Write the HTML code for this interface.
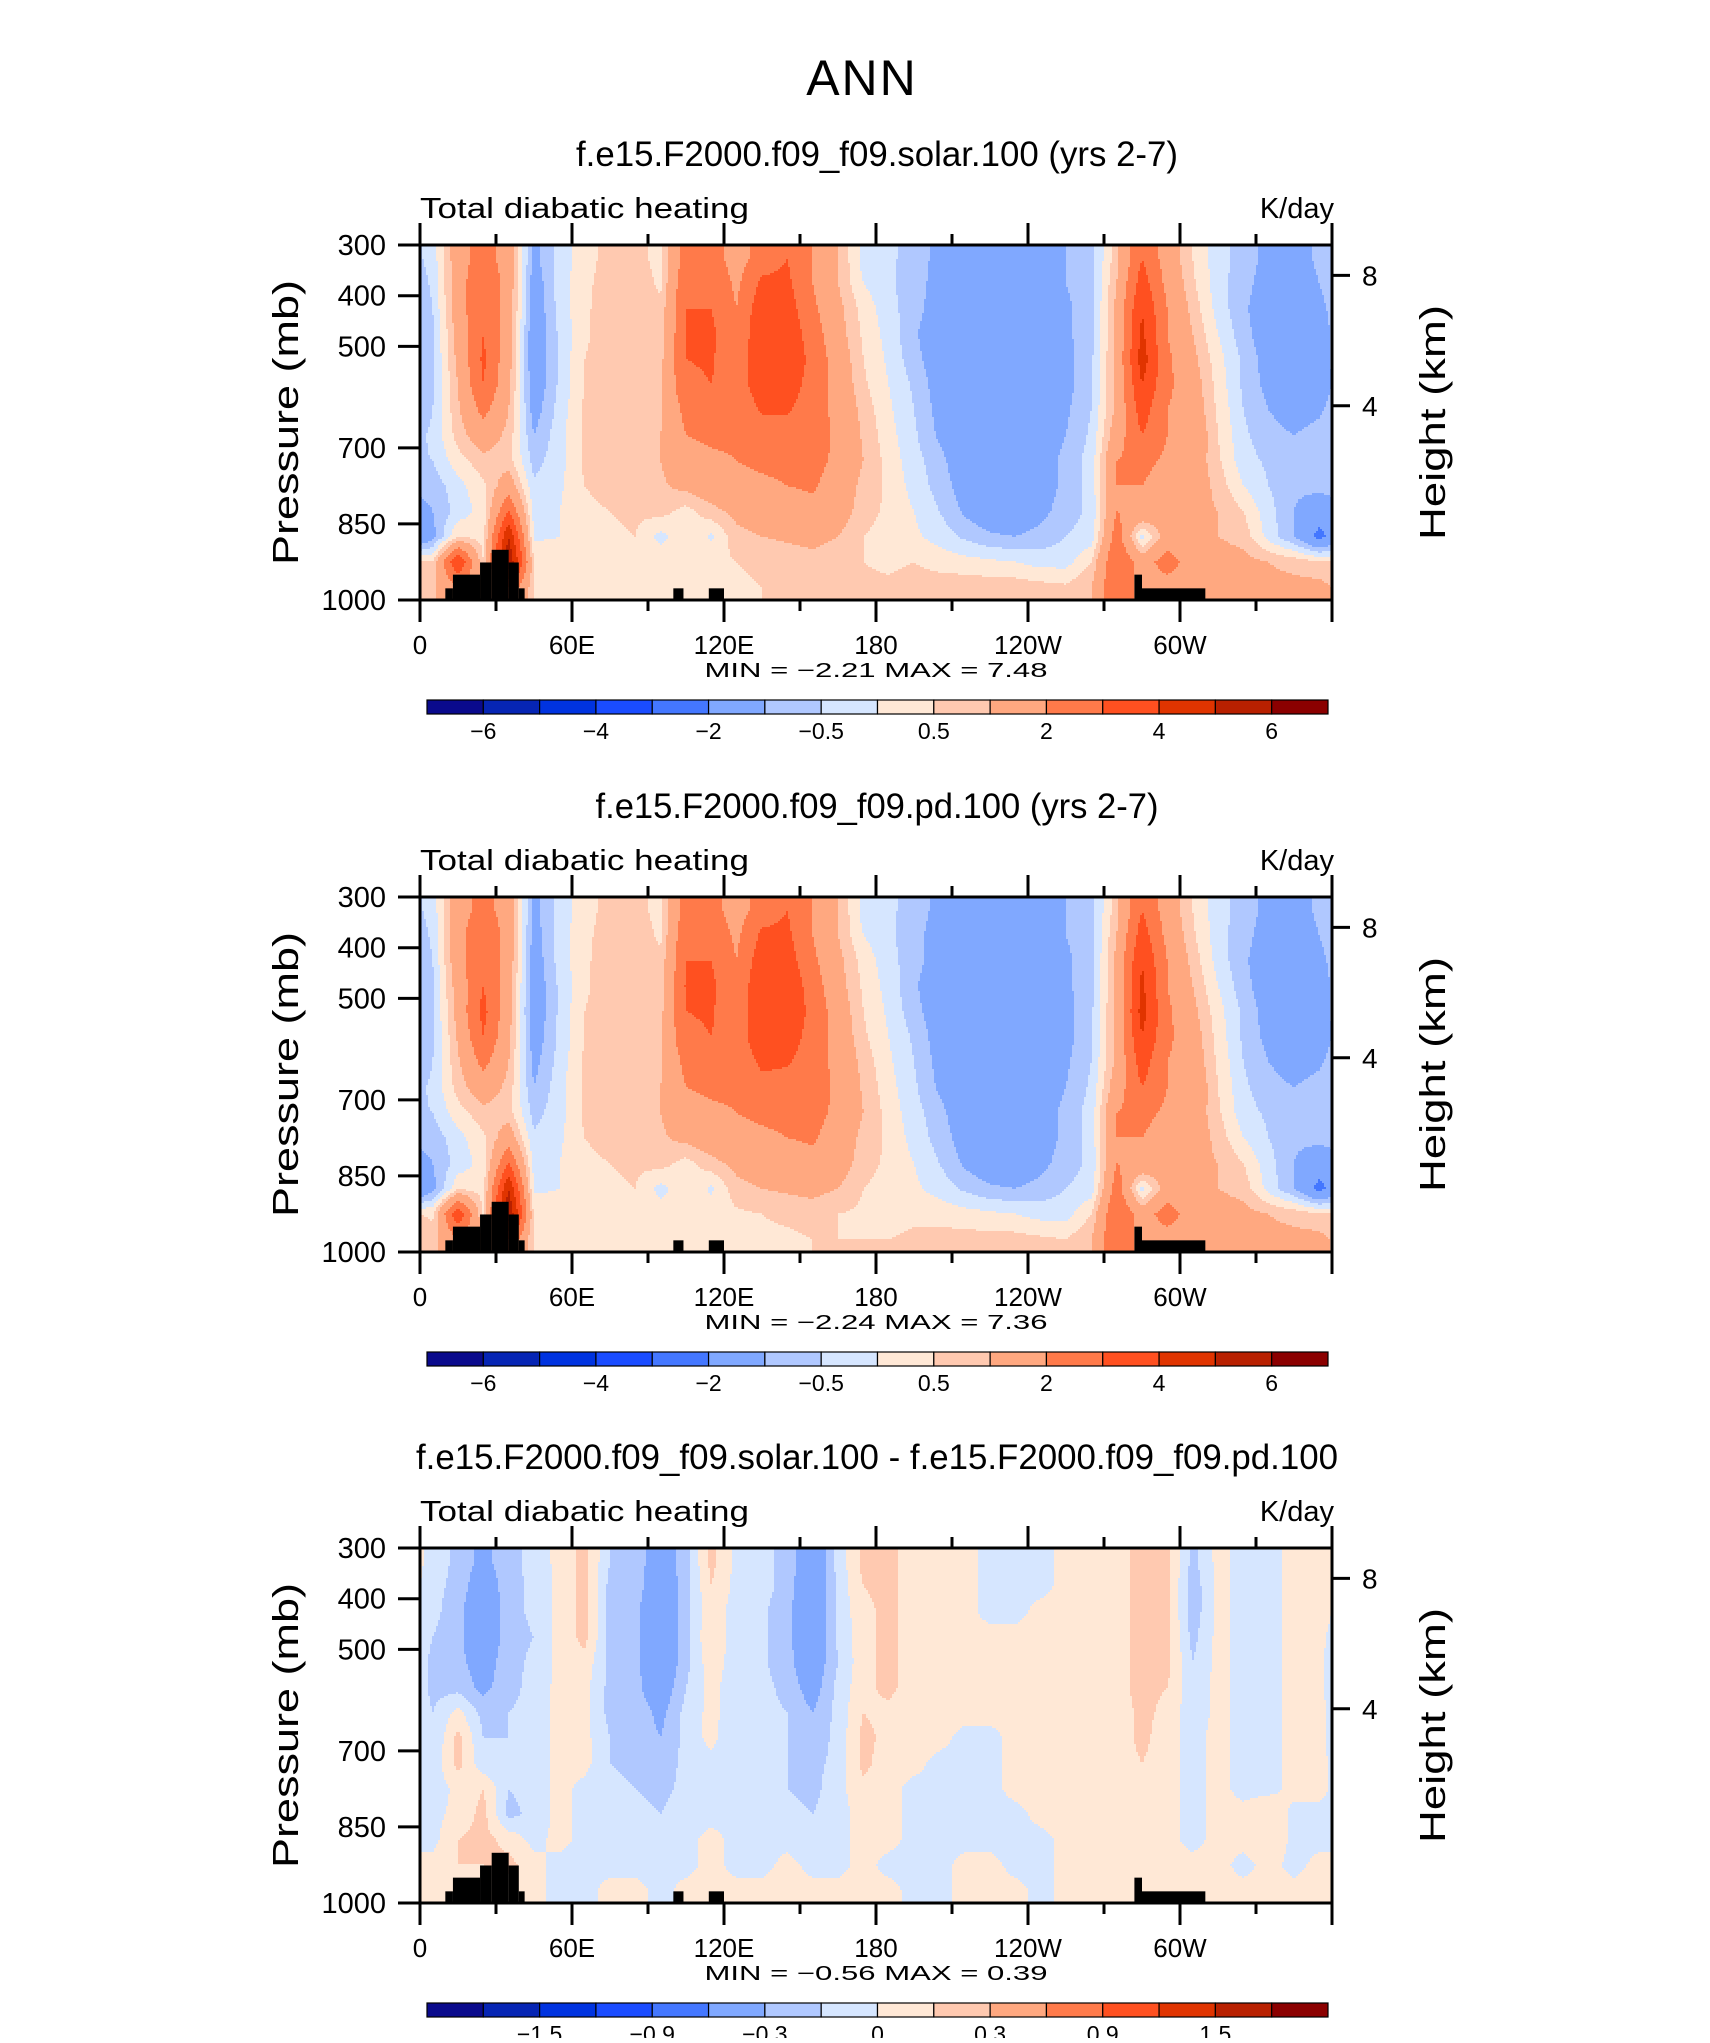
<!DOCTYPE html>
<html><head><meta charset="utf-8"><style>
html,body{margin:0;padding:0;background:#fff}
svg text{font-family:"Liberation Sans",sans-serif;fill:#000}
</style></head><body>
<svg id="fig" width="1710" height="2038" viewBox="0 0 1710 2038" xmlns="http://www.w3.org/2000/svg">
<text x="862" y="95" font-size="50" text-anchor="middle" letter-spacing="2">ANN</text>
</svg>
<script>
// ---------- data ----------
const lons=[5,15,25,35,45,55,65,75,85,95,105,115,125,135,145,155,165,175,185,195,205,215,225,235,245,255,265,275,285,295,305,315,325,335,345,355];
const levels=[325,375,425,475,525,575,625,675,725,775,825,875,925,975];
const solarField=[
[-0.3,1.5,2.5,1.5,-1.2,-0.3,0.3,0.7,0.7,0.3,2.5,2.5,1.5,2.5,3,2,1,-0.2,-0.4,-0.7,-1.2,-1.5,-1.5,-1.5,-1.5,-1,-0.7,0.8,3,1.5,0.5,-0.3,-0.7,-1.2,-1.5,-0.8],
[-0.4,1.5,3,1.5,-1.4,-0.3,0.4,0.7,0.8,0.4,2.8,2.8,1.8,3.2,3.2,2,1,0,-0.4,-0.8,-1.2,-1.7,-1.7,-1.7,-1.5,-1,-0.7,1,3.5,1.7,0.6,-0.3,-0.8,-1.3,-1.6,-1],
[-0.5,1.5,3,1.5,-1.5,-0.3,0.4,0.8,0.8,0.6,3,3,2,3.7,3.5,2.2,1.2,0.3,-0.3,-0.8,-1.3,-1.8,-1.8,-1.8,-1.6,-1.1,-0.7,1.2,4,2,0.8,-0.2,-0.9,-1.4,-1.7,-1.2],
[-0.6,1.3,3,1.4,-1.6,-0.4,0.4,0.8,0.8,0.7,3,3.2,2.2,3.8,3.7,2.5,1.3,0.4,-0.2,-0.9,-1.5,-1.8,-1.8,-1.8,-1.7,-1.1,-0.7,1.2,4.2,2,1,0,-0.8,-1.4,-1.8,-1.3],
[-0.6,1.2,3.2,1.3,-1.6,-0.4,0.5,0.8,0.8,0.8,3,3.1,2.3,3.9,3.8,2.7,1.5,0.5,-0.1,-0.8,-1.4,-1.8,-1.8,-1.8,-1.7,-1.2,-0.6,1.2,4.5,2.2,1.2,0.2,-0.6,-1.3,-1.8,-1.3],
[-0.6,1,3,1.2,-1.5,-0.4,0.5,0.8,0.9,0.9,2.8,3,2.5,3.6,3.5,2.6,1.6,0.6,0,-0.6,-1.3,-1.8,-1.8,-1.8,-1.7,-1.2,-0.6,1.2,4,2.2,1.4,0.3,-0.6,-1.2,-1.6,-1.4],
[-0.5,0.9,2.3,1,-1.3,-0.3,0.6,0.9,0.9,0.9,2.3,2.5,2.3,3.1,3.1,2.5,1.7,0.8,0.1,-0.5,-1.2,-1.8,-1.8,-1.8,-1.6,-1.1,-0.5,1.2,3.5,2,1.5,0.4,-0.5,-1,-1.3,-1.1],
[-0.4,0.7,1.5,0.8,-1,-0.2,0.6,0.9,0.9,1,2,2.2,2.2,2.6,2.6,2.5,1.8,0.9,0.2,-0.4,-1.1,-1.6,-1.8,-1.8,-1.5,-1,-0.4,1.5,3,2,1.7,0.5,-0.4,-0.8,-1,-0.8],
[-0.5,0.3,0.8,0.7,-0.7,-0.2,0.6,0.9,0.9,1,1.6,1.8,2,2.2,2.3,2.3,1.8,1,0.3,-0.3,-0.8,-1.5,-1.8,-1.8,-1.4,-0.8,-0.3,2,2.3,1.8,1.5,0.6,-0.3,-0.6,-0.8,-0.6],
[-0.8,-0.2,0.4,1.5,-0.4,-0.1,0.5,0.8,0.8,0.9,1.2,1.5,1.7,1.8,2,2.1,1.6,0.8,0.4,-0.2,-0.7,-1.3,-1.8,-1.8,-1.4,-0.8,-0.3,2,2,1.5,1.5,0.8,0,-0.5,-0.9,-0.8],
[-1,-0.3,0.2,3,-0.2,0,0.3,0.5,0.6,0.7,0.3,0.8,1.2,1.4,1.6,1.8,1.4,0.7,0.4,0,-0.5,-1.1,-1.5,-1.5,-1.2,-0.7,-0.4,2,1.8,1.5,1.2,1,0.5,-0.3,-1,-1.5],
[-1.2,0.5,0.3,5,-0.1,0,0.3,0.4,0.5,-0.2,0.4,-0.1,0.8,1,1.1,1.2,1,0.5,0.3,0.1,-0.2,-0.6,-0.9,-1,-0.8,-0.5,-0.3,2.5,-0.2,1.4,1.2,1,0.8,-0.2,-1,-2.3],
[0.5,4,0.5,6,0.5,0.2,0.3,0.4,0.5,0.4,0.3,0.4,0.5,0.6,0.7,0.8,0.6,0.5,0.4,0.5,0.3,0.2,0.1,0,-0.2,-0.2,0.5,3,1.5,2.5,1.5,1.3,1.2,1,0.8,0.6],
[0.8,2,1,3,0.5,0.4,0.4,0.4,0.4,0.4,0.4,0.4,0.4,0.5,0.5,0.6,0.6,0.6,0.6,0.7,0.8,0.8,0.8,0.8,0.7,0.6,1,3,1.5,1.5,1.5,1.3,1.2,1.2,1.2,1.2]];
const pdField=[
[-0.3,1.5,2.4,1.5,-1.2,-0.3,0.3,0.7,0.7,0.3,2.5,2.4,1.5,2.5,3,2,1,-0.2,-0.4,-0.7,-1.2,-1.5,-1.5,-1.5,-1.5,-1,-0.7,0.8,3,1.5,0.5,-0.3,-0.7,-1.2,-1.5,-0.8],
[-0.4,1.6,3,1.5,-1.3,-0.3,0.4,0.7,0.8,0.4,2.8,2.7,1.8,3.2,3.2,2,1,0,-0.4,-0.8,-1.3,-1.7,-1.7,-1.7,-1.5,-1,-0.7,1,3.5,1.7,0.6,-0.3,-0.8,-1.3,-1.6,-1],
[-0.5,1.6,3,1.5,-1.4,-0.3,0.4,0.8,0.8,0.6,3,3,2,3.6,3.5,2.2,1.2,0.3,-0.3,-0.8,-1.3,-1.8,-1.8,-1.8,-1.6,-1.1,-0.7,1.2,4,2,0.8,-0.2,-0.9,-1.4,-1.7,-1.2],
[-0.6,1.4,3,1.4,-1.5,-0.4,0.4,0.8,0.8,0.7,3.1,3.2,2.2,3.9,3.8,2.5,1.3,0.4,-0.2,-0.9,-1.5,-1.8,-1.8,-1.8,-1.7,-1.1,-0.7,1.2,4.2,2,1,0,-0.8,-1.4,-1.8,-1.3],
[-0.6,1.3,3.3,1.3,-1.5,-0.4,0.5,0.8,0.8,0.8,3,3.1,2.3,4,3.8,2.7,1.5,0.5,-0.1,-0.8,-1.4,-1.8,-1.8,-1.8,-1.7,-1.2,-0.6,1.2,4.4,2.2,1.2,0.2,-0.6,-1.3,-1.8,-1.3],
[-0.6,1.1,3,1.2,-1.4,-0.4,0.5,0.8,0.9,0.9,2.8,3,2.5,3.7,3.5,2.6,1.6,0.6,0,-0.6,-1.3,-1.8,-1.8,-1.8,-1.7,-1.2,-0.6,1.2,4,2.2,1.4,0.3,-0.6,-1.2,-1.6,-1.4],
[-0.5,0.9,2.3,1,-1.2,-0.3,0.6,0.9,0.9,0.9,2.3,2.5,2.3,3.2,3.1,2.5,1.7,0.8,0.1,-0.5,-1.2,-1.8,-1.8,-1.8,-1.6,-1.1,-0.5,1.2,3.5,2,1.5,0.4,-0.5,-1,-1.3,-1.1],
[-0.4,0.7,1.5,0.8,-1,-0.2,0.6,0.9,0.9,1,2,2.2,2.2,2.7,2.6,2.5,1.8,0.9,0.2,-0.4,-1.1,-1.6,-1.8,-1.8,-1.5,-1,-0.4,1.5,3,2,1.7,0.5,-0.4,-0.8,-1,-0.8],
[-0.5,0.3,0.8,0.7,-0.7,-0.2,0.6,0.9,0.9,1,1.6,1.8,2,2.2,2.3,2.3,1.8,1,0.3,-0.3,-0.8,-1.5,-1.8,-1.8,-1.4,-0.8,-0.3,2,2.3,1.8,1.5,0.6,-0.3,-0.6,-0.8,-0.6],
[-0.8,-0.2,0.4,1.5,-0.4,-0.1,0.5,0.8,0.8,0.9,1.2,1.5,1.7,1.8,2,2.1,1.6,0.8,0.4,-0.2,-0.7,-1.3,-1.8,-1.8,-1.4,-0.8,-0.3,2,2,1.5,1.5,0.8,0,-0.5,-0.9,-0.8],
[-1,-0.3,0.2,3,-0.2,0,0.3,0.5,0.6,0.7,0.3,0.8,1.2,1.4,1.6,1.8,1.4,0.7,0.4,0,-0.5,-1.1,-1.5,-1.5,-1.2,-0.7,-0.4,2,1.8,1.5,1.2,1,0.5,-0.3,-1,-1.5],
[-1.2,0.4,0.3,5,-0.1,0,0.3,0.4,0.5,-0.2,0.4,-0.1,0.8,1,1.1,1.2,1,0.5,0.3,0.1,-0.2,-0.6,-0.9,-1,-0.8,-0.5,-0.3,2.5,-0.2,1.4,1.2,1,0.8,-0.2,-1,-2.3],
[0.4,3.8,0.4,6,0.4,0.2,0.3,0.3,0.4,0.3,0.3,0.3,0.4,0.5,0.6,0.7,0.5,0.4,0.3,0.4,0.3,0.2,0.1,0,-0.2,-0.2,0.5,3,1.5,2.5,1.5,1.3,1.2,1,0.8,0.6],
[0.7,2,1,3,0.4,0.3,0.3,0.3,0.3,0.3,0.3,0.3,0.3,0.4,0.4,0.5,0.5,0.5,0.5,0.6,0.7,0.7,0.7,0.7,0.6,0.5,1,3,1.5,1.5,1.5,1.3,1.2,1.2,1.2,1.2]];
const diffField=[
[-0.05,-0.2,-0.35,-0.2,-0.1,0.05,0.2,-0.15,-0.2,-0.45,-0.2,0.2,-0.05,-0.1,-0.2,-0.5,-0.1,0.2,0.2,0.05,0.05,0.05,-0.05,-0.05,-0.05,0.05,0.1,0.1,0.2,0.2,-0.2,0.05,-0.05,-0.05,0.05,0.1],
[-0.1,-0.2,-0.45,-0.2,-0.12,0.05,0.2,-0.2,-0.2,-0.5,-0.2,0.15,-0.05,-0.1,-0.2,-0.55,-0.1,0.15,0.2,0.05,0.05,0.05,-0.05,-0.05,-0.05,0.05,0.1,0.1,0.2,0.2,-0.25,0.05,-0.05,-0.05,0.05,0.1],
[-0.1,-0.25,-0.5,-0.2,-0.12,0.05,0.2,-0.2,-0.25,-0.55,-0.2,0.1,-0.08,-0.12,-0.25,-0.55,-0.1,0.1,0.2,0.05,0.05,0.05,-0.05,-0.05,0.05,0.05,0.1,0.1,0.2,0.2,-0.25,0.05,-0.05,-0.05,0.05,0.1],
[-0.15,-0.25,-0.5,-0.2,-0.15,0.05,0.2,-0.2,-0.25,-0.55,-0.2,0.15,-0.1,-0.12,-0.25,-0.5,-0.12,0.1,0.2,0.05,0.05,0.05,0.05,0.05,0.05,0.05,0.05,0.1,0.2,0.2,-0.2,0.05,-0.05,-0.05,0.05,0.05],
[-0.2,-0.25,-0.4,-0.2,-0.12,0.05,0.1,-0.2,-0.25,-0.5,-0.2,0.1,-0.1,-0.12,-0.25,-0.45,-0.15,0.1,0.2,0.05,0.05,0.05,0.05,0.05,0.05,0.05,0.05,0.1,0.2,0.2,-0.15,0.05,-0.05,-0.05,0.05,0.05],
[-0.2,-0.2,-0.35,-0.2,-0.1,0.05,0.05,-0.2,-0.25,-0.45,-0.15,0.05,-0.1,-0.1,-0.2,-0.4,-0.1,0.1,0.2,0.05,0.05,0.05,0.05,0.05,0.05,0.05,0.05,0.1,0.2,0.15,-0.1,0.05,-0.05,-0.05,0.05,0.05],
[-0.15,0.05,-0.2,-0.15,-0.1,0.05,0.05,-0.2,-0.2,-0.35,-0.1,0.05,-0.1,-0.1,-0.15,-0.3,-0.1,0.15,0.1,0.05,0.05,0.05,0.05,0.05,0.05,0.05,0.05,0.05,0.2,0.1,-0.1,0.05,-0.05,-0.05,0.05,0.05],
[-0.15,0.2,-0.15,-0.15,-0.1,0.05,0.05,-0.15,-0.2,-0.3,-0.1,0.05,-0.15,-0.1,-0.15,-0.25,-0.1,0.2,0.1,0.05,0.05,-0.05,-0.05,0.05,0.05,0.05,0.05,0.05,0.2,0.05,-0.05,0.05,-0.05,-0.05,0.05,0.05],
[-0.1,0.2,-0.1,-0.1,-0.1,0.05,0.05,-0.15,-0.2,-0.25,-0.1,-0.05,-0.15,-0.1,-0.15,-0.2,-0.1,0.2,0.05,0.05,-0.05,-0.05,-0.05,0.05,0.05,0.05,0.05,0.05,0.15,0.05,-0.05,0.05,-0.05,-0.05,0.05,0.05],
[-0.1,0.05,0.15,-0.15,-0.1,0.05,-0.05,-0.1,-0.15,-0.2,-0.1,-0.05,-0.1,-0.1,-0.15,-0.2,-0.05,0.1,0.05,-0.05,-0.05,-0.05,-0.05,0.05,0.05,0.05,0.05,0.05,0.1,0.05,-0.05,0.05,-0.05,-0.05,0.05,0.05],
[-0.05,0.05,0.2,-0.2,-0.1,0.05,-0.05,-0.05,-0.1,-0.15,-0.05,-0.05,-0.05,-0.1,-0.1,-0.15,-0.05,0.05,0.05,-0.05,-0.05,-0.05,-0.05,-0.05,0.05,0.05,0.05,0.05,0.1,0.05,-0.05,0.05,0.05,0.15,-0.05,-0.05],
[-0.05,0.15,0.2,0.1,-0.05,0.05,-0.05,-0.05,-0.05,-0.1,-0.05,0.05,-0.05,-0.05,-0.05,-0.1,-0.05,0.05,0.05,-0.05,-0.05,-0.05,-0.05,-0.05,-0.05,0.05,0.05,0.05,0.05,0.05,-0.05,0.05,0.05,0.15,-0.05,-0.05],
[0.05,0.15,0.15,0.2,0.05,-0.05,-0.05,-0.05,-0.05,-0.05,-0.05,0.05,-0.05,-0.05,0.05,-0.05,-0.05,0.05,-0.05,-0.05,-0.05,0.05,0.05,-0.05,-0.05,0.05,0.05,0.05,0.05,0.05,0.05,0.05,-0.05,0.05,-0.05,0.05],
[0.05,0.05,0.05,0.05,0.05,-0.05,-0.05,0.05,0.05,-0.05,0.05,0.05,0.05,0.05,0.05,0.05,0.05,0.05,0.05,-0.05,-0.05,0.05,0.05,0.05,-0.05,0.05,0.05,0.05,0.05,0.05,0.05,0.05,0.05,0.05,0.05,0.05]];
const absBounds=[-6,-5,-4,-3,-2,-1,-0.5,0,0.5,1,2,3,4,5,6];
const absLabels=["-6","-4","-2","-0.5","0.5","2","4","6"];
const diffBounds=[-1.8,-1.5,-1.2,-0.9,-0.6,-0.3,-0.15,0,0.15,0.3,0.6,0.9,1.2,1.5,1.8];
const diffLabels=["-1.5","-0.9","-0.3","0","0.3","0.9","1.5"];
const topoLon0=[10,13,23.7,28.3,35,39,100,114,282,285];
const topoLon1=[13,23.7,28.3,35,39,41.3,104,120,285,310];
const topoTop=[977,950,926,901,926,977,977,977,950,977];
const xTickVals=[0,60,120,180,240,300];
const xTickLabels=["0","60E","120E","180","120W","60W"];
const pTicks=[300,400,500,700,850,1000];
const hTicks=[8,4];
const hTickP=[360,617];
const titles=["f.e15.F2000.f09_f09.solar.100 (yrs 2-7)","f.e15.F2000.f09_f09.pd.100 (yrs 2-7)","f.e15.F2000.f09_f09.solar.100 - f.e15.F2000.f09_f09.pd.100"];
const titleLens=[602,563,922];
const minVals=["-2.21","-2.24","-0.56"];
const maxVals=["7.48","7.36","0.39"];
const colors=["#0a0a8c","#0625b4","#0033e0","#1a4cff","#4477ff","#80a8ff","#b0c8ff","#d6e6ff","#ffe8d6","#ffc9b0","#ffa880","#ff7a4a","#ff5020","#e03400","#b82000","#8b0000"];

// ---------- drawing ----------
const NS="http://www.w3.org/2000/svg";
const svg=document.getElementById('fig');
function mk(tag,attrs,parent){const e=document.createElementNS(NS,tag);for(const k in attrs)e.setAttribute(k,attrs[k]);(parent||svg).appendChild(e);return e;}
const X0=420,PW=912,PH=355;
const panelTops=[245,897,1548];
const fields=[solarField,pdField,diffField];
const boundsSet=[absBounds,absBounds,diffBounds];
const labelSet=[absLabels,absLabels,diffLabels];
function colorFor(v,b){let i=0;while(i<b.length&&v>=b[i])i++;return colors[i];}
function sample(F,lon,p){
  let cf=(lon-5)/10; let i0=Math.floor(cf),t=cf-i0;
  const n=lons.length; const a=((i0%n)+n)%n, b=(((i0+1)%n)+n)%n;
  let rf=(p-325)/50; rf=Math.max(0,Math.min(levels.length-1,rf));
  const r0=Math.floor(rf), r1=Math.min(levels.length-1,r0+1), u=rf-r0;
  const v0=F[r0][a]*(1-t)+F[r0][b]*t, v1=F[r1][a]*(1-t)+F[r1][b]*t;
  return v0*(1-u)+v1*u;
}
panelTops.forEach((Y0,k)=>{
  const g=mk('g',{});
  
  
  const xs=lon=>X0+lon/360*PW;
  const ys=p=>Y0+(p-300)/700*PH;
  const t=mk('text',{x:877,y:Y0-79,'font-size':35,'text-anchor':'middle',textLength:titleLens[k],lengthAdjust:'spacingAndGlyphs'},g);t.textContent=titles[k];
  
  const l=mk('text',{x:X0,y:Y0-27,'font-size':29,textLength:329,lengthAdjust:'spacingAndGlyphs'},g);l.textContent="Total diabatic heating";
  
  const u=mk('text',{x:X0+PW+2,y:Y0-27,'font-size':29,'text-anchor':'end'},g);u.textContent="K/day";
  
  // field
  const fg=mk('g',{'shape-rendering':'crispEdges'},g);
  
  const F=fields[k],B=boundsSet[k];const dx=2,dy=2;
  function flush(x0,x1,y,c){const r=mk('rect',{x:X0+x0,y:Y0+y,width:x1-x0,height:Math.min(dy,PH-y),fill:c},fg);
    }
  for(let y=0;y<PH;y+=dy){
    const p=300+(y+dy/2)/PH*700;let runStart=0,runCol=null;
    for(let x=0;x<PW;x+=dx){
      const c=colorFor(sample(F,(x+dx/2)/PW*360,p),B);
      if(c!==runCol){ if(runCol)flush(runStart,x,y,runCol); runStart=x;runCol=c;}
    }
    flush(runStart,PW,y,runCol);
  }
  // topography
  topoLon0.forEach((a,i)=>{const r=mk('rect',{x:xs(a),y:ys(topoTop[i]),width:xs(topoLon1[i])-xs(a),height:ys(1000)-ys(topoTop[i]),fill:'#000'},g);
    });
  // frame
  const fr=mk('rect',{x:X0,y:Y0,width:PW,height:PH,fill:'none',stroke:'#000','stroke-width':3},g);
  
  // x ticks
  for(let lon=0;lon<=360;lon+=30){const maj=lon%60===0;const L=maj?22:11;
    mk('line',{x1:xs(lon),x2:xs(lon),y1:Y0,y2:Y0-L,stroke:'#000','stroke-width':3},g);
    mk('line',{x1:xs(lon),x2:xs(lon),y1:Y0+PH,y2:Y0+PH+L,stroke:'#000','stroke-width':3},g);}
  xTickVals.forEach((v,i)=>{const tt=mk('text',{x:xs(v),y:Y0+PH+54,'font-size':26,'text-anchor':'middle'},g);tt.textContent=xTickLabels[i];
    });
  // p ticks
  pTicks.forEach(p=>{mk('line',{x1:X0,x2:X0-22,y1:ys(p),y2:ys(p),stroke:'#000','stroke-width':3},g);
    const tt=mk('text',{x:X0-34,y:ys(p)+10,'font-size':29,'text-anchor':'end'},g);tt.textContent=p;
    });
  hTicks.forEach((h,i)=>{const y=ys(hTickP[i]);mk('line',{x1:X0+PW,x2:X0+PW+18,y1:y,y2:y,stroke:'#000','stroke-width':3},g);
    const tt=mk('text',{x:X0+PW+30,y:y+10,'font-size':28},g);tt.textContent=h;
    });
  const ya=mk('text',{x:0,y:0,'font-size':36,'text-anchor':'middle',textLength:285,lengthAdjust:'spacingAndGlyphs',transform:`translate(298,${Y0+PH/2}) rotate(-90)`},g);ya.textContent="Pressure (mb)";
  
  const ha=mk('text',{x:0,y:0,'font-size':36,'text-anchor':'middle',textLength:235,lengthAdjust:'spacingAndGlyphs',transform:`translate(1445,${Y0+PH/2}) rotate(-90)`},g);ha.textContent="Height (km)";
  
  const mm=mk('text',{x:876,y:Y0+PH+77,'font-size':20,'text-anchor':'middle','xml:space':'preserve',textLength:343,lengthAdjust:'spacingAndGlyphs'},g);
  mm.textContent="MIN =   "+minVals[k].replace('-','\u2212')+"   MAX =    "+maxVals[k];
  
  // colorbar
  const cb=mk('g',{},g);
  const cx0=427,cw=901/16,cy=Y0+455;
  colors.forEach((c,i)=>{const r=mk('rect',{x:cx0+i*cw,y:cy,width:cw,height:14,fill:c,stroke:'#000','stroke-width':1.2},cb);
    });
  const start=k<2?1:2;
  labelSet[k].forEach((s,i)=>{const tt=mk('text',{x:cx0+(start+2*i)*cw,y:cy+39,'font-size':23,'text-anchor':'middle'},cb);
    tt.textContent=s.replace('-','\u2212');});
});
</script>
</body></html>
